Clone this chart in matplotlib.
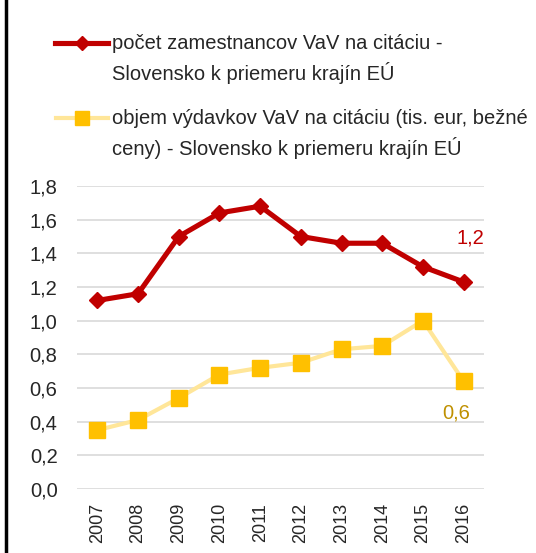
import matplotlib.pyplot as plt
from matplotlib.lines import Line2D
from matplotlib.ticker import FuncFormatter

# data
years = ['2007', '2008', '2009', '2010', '2011', '2012', '2013', '2014', '2015', '2016']
zamestnanci = [1.12, 1.16, 1.50, 1.64, 1.68, 1.50, 1.46, 1.46, 1.32, 1.23]
vydavky = [0.35, 0.41, 0.54, 0.68, 0.72, 0.75, 0.83, 0.85, 1.00, 0.64]
label_zam = 'počet zamestnancov VaV na citáciu -\nSlovensko k priemeru krajín EÚ'
label_vyd = 'objem výdavkov VaV na citáciu (tis. eur, bežné\nceny) - Slovensko k priemeru krajín EÚ'

RED = '#C00000'
GOLD = '#FFC000'
LIGHT = '#FFE699'
TXT = '#262626'
FS = 14.5

plt.rcParams['font.family'] = ['Liberation Sans', 'DejaVu Sans']

W, H = 536, 553
fig = plt.figure(figsize=(W / 100, H / 100), dpi=100)
ax = fig.add_axes([77 / W, 1 - 489 / H, (484 - 77) / W, (489 - 186) / H])

x = range(len(years))
ax.plot(x, vydavky, color=LIGHT, lw=3, marker='s', ms=11,
        mfc=GOLD, mec=GOLD, zorder=3)
ax.plot(x, zamestnanci, color=RED, lw=3.7, marker='D', ms=8.5,
        mfc=RED, mec=RED, zorder=4)

ax.set_xlim(-0.5, len(years) - 0.5)
ax.set_ylim(0, 1.8)
ax.set_yticks([i * 0.2 for i in range(10)])
ax.yaxis.set_major_formatter(FuncFormatter(lambda v, p: f'{v:.1f}'.replace('.', ',')))
ax.set_xticks(list(x))
ax.set_xticklabels(years, rotation=90)
ax.grid(axis='y', color='#D9D9D9', lw=1.2)
ax.set_axisbelow(True)
for s in ax.spines.values():
    s.set_visible(False)
ax.tick_params(axis='y', length=0, pad=14, labelsize=14.5, labelcolor=TXT)
ax.tick_params(axis='x', length=0, pad=10, labelsize=13, labelcolor=TXT)

# end labels
ax.annotate(f'{zamestnanci[-1]:.1f}'.replace('.', ','), (x[-1], zamestnanci[-1]),
            xytext=(7, 44), textcoords='offset pixels', ha='center', va='center',
            color=RED, fontsize=14.5)
ax.annotate(f'{vydavky[-1]:.1f}'.replace('.', ','), (x[-1], vydavky[-1]),
            xytext=(-7, -32), textcoords='offset pixels', ha='center', va='center',
            color='#BF9000', fontsize=14.5)

# legend drawn by hand
def fx(px):
    return px / W

def fy(py):
    return 1 - py / H

fig.add_artist(Line2D([fx(55), fx(82), fx(108)], [fy(43)] * 3, color=RED, lw=3.7,
                      marker='D', ms=7, markevery=[1], mfc=RED, mec=RED))
fig.add_artist(Line2D([fx(56), fx(82), fx(108)], [fy(118)] * 3, color=LIGHT, lw=3,
                      marker='s', ms=10.5, markevery=[1], mfc=GOLD, mec=GOLD))
fig.text(fx(112), fy(59), label_zam, fontsize=FS, color=TXT, va='center',
         linespacing=1.5)
fig.text(fx(112), fy(134), label_vyd, fontsize=FS, color=TXT, va='center',
         linespacing=1.5)

# left frame line
fig.add_artist(Line2D([fx(5.5), fx(5.5)], [0, 1], color='black', lw=2.5))

fig.savefig('out.png', dpi=100)
